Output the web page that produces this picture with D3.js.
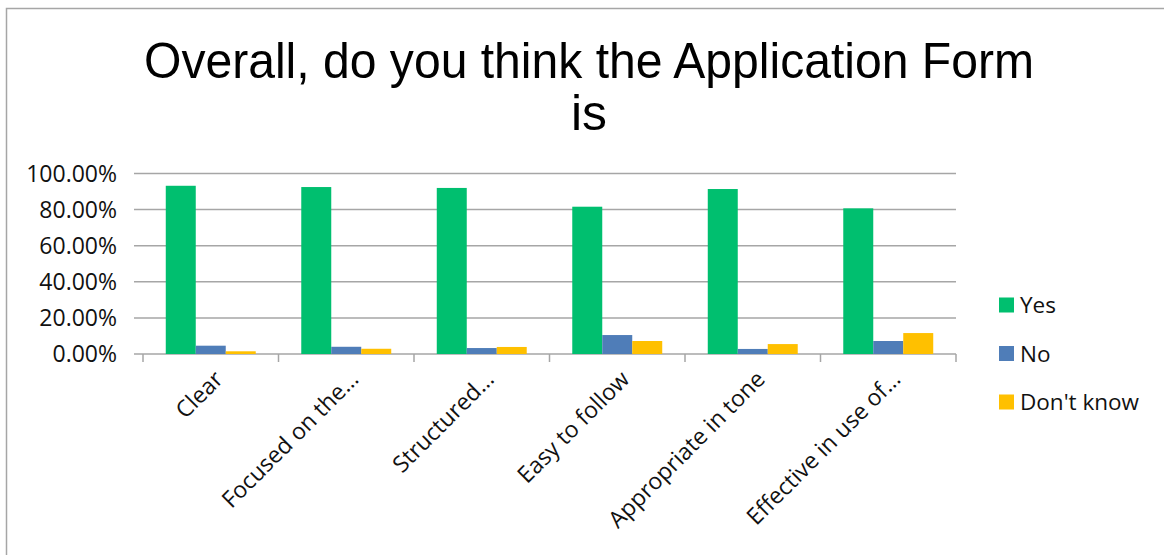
<html>
<head>
    <script src="https://cdn.jsdelivr.net/npm/d3@7"></script>
    <style>
        body { margin: 0; background: white; }
        svg { display: block; }
    </style>
</head>
<body>
<svg id="chart"></svg>
<script>
    // data
    const categories = ["Clear", "Focused on the\u2026", "Structured\u2026", "Easy to follow", "Appropriate in tone", "Effective in use of\u2026"];
    const seriesNames = ["Yes", "No", "Don't know"];
    const yesValues = [0.932, 0.925, 0.920, 0.816, 0.914, 0.807];
    const noValues = [0.046, 0.040, 0.033, 0.105, 0.028, 0.072];
    const dontKnowValues = [0.015, 0.029, 0.039, 0.072, 0.055, 0.116];
    const yTicks = [0, 0.2, 0.4, 0.6, 0.8, 1.0];
    const colors = ["#00BF6F", "#4F7DB8", "#FFC000"];

    const width = 1164, height = 555;
    const svg = d3.select("#chart").attr("width", width).attr("height", height);

    // outer chart frame (right and bottom edges fall outside the picture)
    svg.append("rect")
        .attr("x", 6.5).attr("y", 8.5)
        .attr("width", 1200).attr("height", 600)
        .attr("fill", "none").attr("stroke", "#a6a6a6").attr("stroke-width", 1.5);

    // title
    const title = svg.append("g")
        .style("font-family", "'Liberation Sans', Arial, sans-serif")
        .style("font-size", "50px")
        .attr("text-anchor", "middle");
    title.append("text").attr("x", 589).attr("y", 78)
        .attr("textLength", 890).attr("lengthAdjust", "spacingAndGlyphs")
        .text("Overall, do you think the Application Form");
    title.append("text").attr("x", 589).attr("y", 130)
        .attr("textLength", 36).attr("lengthAdjust", "spacingAndGlyphs")
        .text("is");

    const plotLeft = 143, plotRight = 956, plotTop = 173.5, plotBottom = 354;

    const x0 = d3.scaleBand().domain(categories).range([plotLeft, plotRight]).padding(0);
    const x1 = d3.scaleBand().domain(seriesNames)
        .range([x0.bandwidth() * 0.168, x0.bandwidth() * 0.832]).padding(0);
    const y = d3.scaleLinear().domain([0, 1]).range([plotBottom, plotTop]);

    const font = "'Open Sans', 'Noto Sans', sans-serif";

    // gridlines + y labels
    const yAxis = svg.append("g");
    yAxis.selectAll("line").data(yTicks).enter().append("line")
        .attr("x1", plotLeft - 9).attr("x2", plotRight)
        .attr("y1", d => y(d)).attr("y2", d => y(d))
        .attr("stroke", "#a6a6a6").attr("stroke-width", 1.5);
    yAxis.selectAll("text").data(yTicks).enter().append("text")
        .attr("x", 117).attr("y", d => y(d))
        .attr("dy", "0.36em")
        .attr("text-anchor", "end")
        .style("font-family", font).style("font-size", "23px").attr("fill", "#111")
        .text(d => d3.format(".2%")(d));

    // category ticks along the baseline
    const bounds = categories.map(c => x0(c)).concat([plotRight]);
    svg.append("g").selectAll("line").data(bounds).enter().append("line")
        .attr("x1", d => d).attr("x2", d => d)
        .attr("y1", plotBottom).attr("y2", plotBottom + 8)
        .attr("stroke", "#a6a6a6").attr("stroke-width", 1.5);

    // bars
    const rows = categories.map((c, i) => ({
        cat: c,
        vals: [yesValues[i], noValues[i], dontKnowValues[i]]
    }));
    const groups = svg.append("g").selectAll("g").data(rows).enter().append("g")
        .attr("transform", d => "translate(" + x0(d.cat) + ",0)");
    groups.selectAll("rect")
        .data(d => d.vals.map((v, i) => ({ key: seriesNames[i], v: v, i: i })))
        .enter().append("rect")
        .attr("x", d => x1(d.key))
        .attr("width", x1.bandwidth())
        .attr("y", d => y(d.v))
        .attr("height", d => plotBottom - y(d.v))
        .attr("fill", d => colors[d.i]);

    // rotated category labels
    svg.append("g").selectAll("text").data(categories).enter().append("text")
        .attr("transform", d => "translate(" + (x0(d) + x0.bandwidth() / 2 + 8) + "," + (plotBottom + 21) + ") rotate(-45)")
        .attr("text-anchor", "end")
        .attr("dy", "0.35em")
        .style("font-family", font).style("font-size", "23px").attr("fill", "#111")
        .text(d => d);

    // legend
    const legend = svg.append("g").selectAll("g").data(seriesNames).enter().append("g")
        .attr("transform", (d, i) => "translate(999," + (305 + i * 48.5) + ")");
    legend.append("rect")
        .attr("x", 0).attr("y", -7.5).attr("width", 15).attr("height", 15)
        .attr("fill", (d, i) => colors[i]);
    legend.append("text")
        .attr("x", 21).attr("y", 0).attr("dy", "0.36em")
        .style("font-family", font).style("font-size", "22.5px").attr("fill", "#111")
        .text(d => d);
</script>
</body>
</html>
